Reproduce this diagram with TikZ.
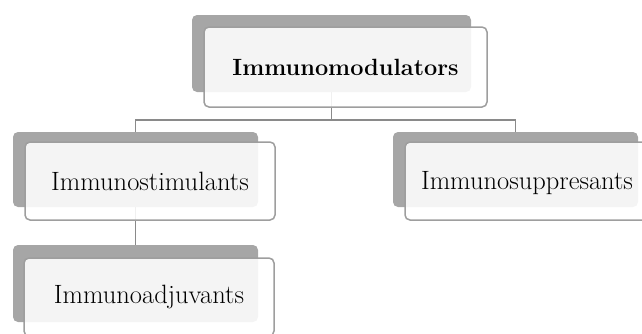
\documentclass[tikz,border=0pt]{standalone}
\usetikzlibrary{calc}
\definecolor{backgray}{HTML}{A6A6A6}
\definecolor{edgegray}{HTML}{9E9E9E}
\definecolor{linegray}{HTML}{8A8A8A}
\begin{document}
\begin{tikzpicture}[x=1pt,y=-1pt,
  backbox/.style={fill=backgray, draw=none, rounded corners=5pt, minimum width=245pt, minimum height=75pt, inner sep=0pt},
  frontbox/.style={fill=white, fill opacity=0.88, text opacity=1, draw=edgegray, line width=1.5pt, rounded corners=5pt, minimum width=250pt, minimum height=78pt, inner sep=0pt, font=\fontsize{26.5}{30}\selectfont},
  conn/.style={draw=linegray, line width=1.4pt}]
\useasboundingbox (0,0) rectangle (642,333);
% back boxes
\node[backbox, minimum width=279pt, minimum height=77pt] (tb) at (331.5,53.5) {};
\node[backbox] (sb) at (135.5,169.5) {};
\node[backbox] (pb) at (515.5,169.5) {};
\node[backbox, minimum height=77pt] (ab) at (135.5,283.5) {};
% connectors
\coordinate (bus) at (0,120);
\draw[conn] (tb.south) -- (tb.south |- bus);
\draw[conn] (sb.north) -- (sb.north |- bus) -- (pb.north |- bus) -- (pb.north);
\draw[conn] (sb.south) -- (ab.north);
% front boxes
\node[frontbox, minimum width=283pt, minimum height=80pt, font=\fontsize{23.5}{28}\selectfont\bfseries] (tf) at (345.5,67) {Immunomodulators};
\node[frontbox] (sf) at (150,181) {Immunostimulants};
\node[frontbox] (pf) at (530,181) {};
\node at (527,183) [font=\fontsize{26.5}{30}\selectfont] (pt) {Immunosuppresants};
\node[frontbox] (af) at (149,297) {Immunoadjuvants};
\end{tikzpicture}
\end{document}
